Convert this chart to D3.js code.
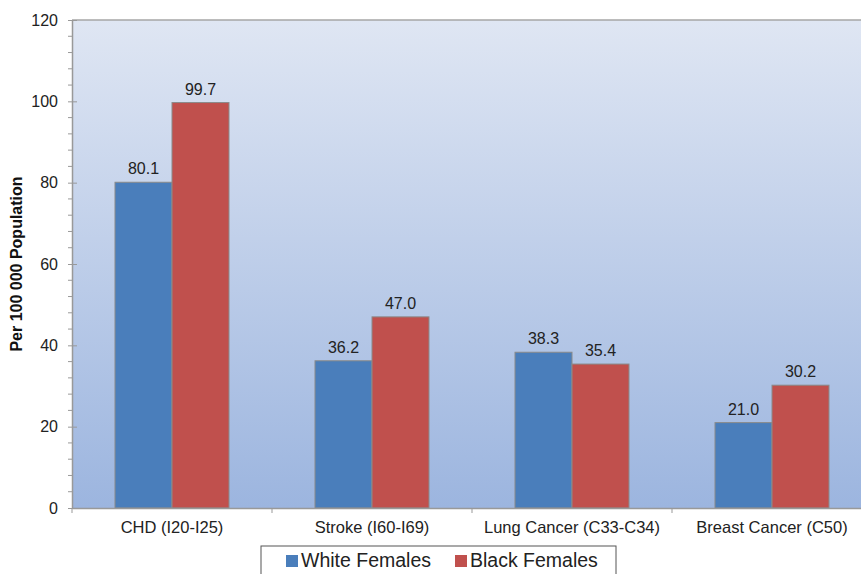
<!DOCTYPE html>
<html>
<head>
<meta charset="utf-8">
<script src="https://cdn.jsdelivr.net/npm/d3@7"></script>
<style>
  body { margin: 0; background: #fff; }
  svg { display: block; font-family: "Liberation Sans", Arial, sans-serif; }
</style>
</head>
<body>
<div id="chart"></div>
<script>
// data
const categories = ["CHD (I20-I25)", "Stroke (I60-I69)", "Lung Cancer (C33-C34)", "Breast Cancer (C50)"];
const seriesNames = ["White Females", "Black Females"];
const whiteFemales = [80.1, 36.2, 38.3, 21.0];
const blackFemales = [99.7, 47.0, 35.4, 30.2];
const yTicks = [0, 20, 40, 60, 80, 100, 120];
const colors = ["#4a7ebb", "#c0504d"];

const W = 861, H = 574;
const margin = {top: 20, right: -11, bottom: 66, left: 72};
const width = W - margin.left - margin.right,
      height = H - margin.top - margin.bottom;

const svg = d3.select("#chart").append("svg")
  .attr("width", W).attr("height", H);

const defs = svg.append("defs");
const grad = defs.append("linearGradient")
  .attr("id", "bg").attr("x1", 0).attr("y1", 0).attr("x2", 0).attr("y2", 1);
grad.append("stop").attr("offset", "0%").attr("stop-color", "#dfe6f3");
grad.append("stop").attr("offset", "100%").attr("stop-color", "#9cb5df");

const g = svg.append("g").attr("transform", `translate(${margin.left},${margin.top})`);

const x = d3.scaleBand().domain(categories).range([0, width]);
const x1 = d3.scaleBand().domain(seriesNames).range([43, 200 - 43]);
const y = d3.scaleLinear().domain([0, 120]).range([height, 0]);

// plot background
g.append("rect").attr("width", width).attr("height", height).attr("fill", "url(#bg)");
g.append("line").attr("x1", 0).attr("x2", width).attr("y1", 0).attr("y2", 0)
  .attr("stroke", "#a6a6a6").attr("stroke-width", 1.5);

// bars
const rows = categories.map((c, i) => ({cat: c, vals: [whiteFemales[i], blackFemales[i]]}));
const grp = g.selectAll(".grp").data(rows).enter().append("g")
  .attr("transform", d => `translate(${x(d.cat)},0)`);

grp.selectAll("rect").data(d => d.vals.map((v, j) => ({name: seriesNames[j], v: v, j: j})))
  .enter().append("rect")
  .attr("x", d => x1(d.name))
  .attr("y", d => y(d.v))
  .attr("width", x1.bandwidth())
  .attr("height", d => height - y(d.v))
  .attr("fill", d => colors[d.j])
  .attr("stroke", "#8a8a8a")
  .attr("stroke-width", 1);

grp.selectAll("text.val").data(d => d.vals.map((v, j) => ({name: seriesNames[j], v: v})))
  .enter().append("text")
  .attr("class", "val")
  .attr("x", d => x1(d.name) + x1.bandwidth() / 2)
  .attr("y", d => y(d.v) - 8)
  .attr("text-anchor", "middle")
  .attr("font-size", "16px")
  .attr("fill", "#222")
  .text(d => d.v.toFixed(1));

// y axis
const yAxis = g.append("g")
  .call(d3.axisLeft(y).tickValues(yTicks).tickSize(4).tickSizeOuter(0).tickPadding(10));
yAxis.select(".domain").attr("stroke", "#999").attr("stroke-width", 1.5);
yAxis.selectAll(".tick line").attr("stroke", "#999").attr("x2", 5).attr("x1", -4);
yAxis.selectAll(".tick text").attr("font-size", "16px").attr("fill", "#222");

// minor ticks
const minor = d3.range(0, 121, 4).filter(v => v % 20 !== 0);
g.append("g").selectAll("line").data(minor).enter().append("line")
  .attr("x1", -4).attr("x2", 0)
  .attr("y1", d => y(d)).attr("y2", d => y(d))
  .attr("stroke", "#999");

// x axis
const xAxis = g.append("g").attr("transform", `translate(0,${height})`)
  .call(d3.axisBottom(x).tickSize(0).tickPadding(13));
xAxis.select(".domain").attr("stroke", "#999").attr("stroke-width", 1.5);
xAxis.selectAll(".tick text").attr("font-size", "16.5px").attr("fill", "#222");
g.append("g").selectAll("line").data(d3.range(0, categories.length + 1)).enter().append("line")
  .attr("x1", i => i * x.step()).attr("x2", i => i * x.step())
  .attr("y1", height).attr("y2", height + 5)
  .attr("stroke", "#999");

// y label
svg.append("text")
  .attr("transform", `translate(22,${margin.top + height / 2}) rotate(-90)`)
  .attr("text-anchor", "middle")
  .attr("font-size", "16px").attr("font-weight", "bold").attr("fill", "#111")
  .text("Per 100 000 Population");

// legend
const lg = svg.append("g");
lg.append("rect").attr("x", 261).attr("y", 546).attr("width", 355).attr("height", 40)
  .attr("fill", "#fff").attr("stroke", "#555").attr("stroke-width", 1);
const legendX = [286, 455];
seriesNames.forEach((n, i) => {
  lg.append("rect").attr("x", legendX[i]).attr("y", 555).attr("width", 12).attr("height", 12)
    .attr("fill", colors[i]);
  lg.append("text").attr("x", legendX[i] + 15).attr("y", 567)
    .attr("font-size", "19.5px").attr("fill", "#222").text(n);
});
</script>
</body>
</html>
